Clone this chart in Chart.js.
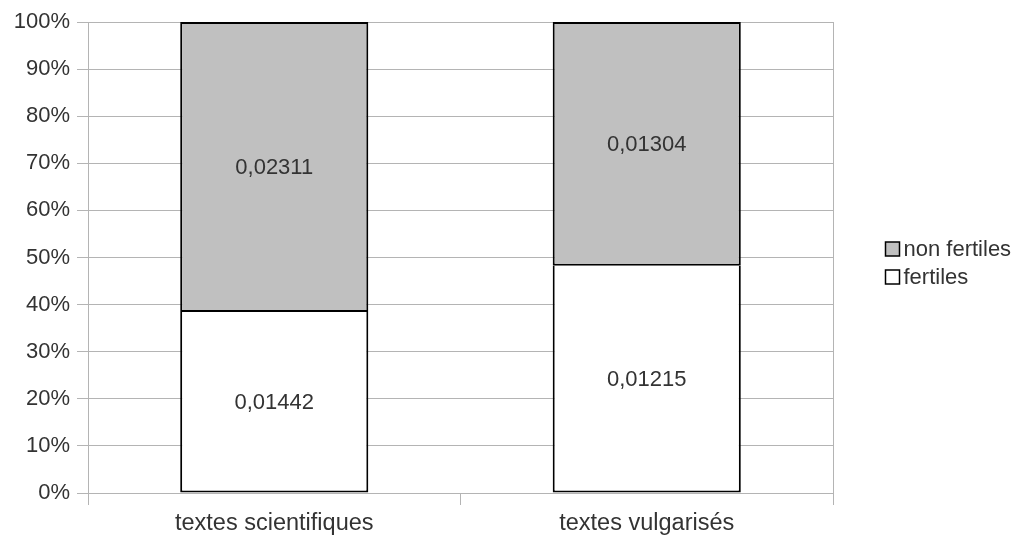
<!DOCTYPE html>
<html>
<head>
<meta charset="utf-8">
<script src="https://cdn.jsdelivr.net/npm/chart.js@4.4.0/dist/chart.umd.min.js"></script>
<style>
html,body{margin:0;padding:0;background:#fff;}
#wrap{width:1023px;height:542px;position:relative;}
</style>
</head>
<body>
<div id="wrap"><canvas id="c" width="1023" height="542"></canvas></div>
<script>
const categories = ['textes scientifiques', 'textes vulgarisés'];
const fertiles = [0.01442, 0.01215];
const nonFertiles = [0.02311, 0.01304];
const seriesNames = ['fertiles', 'non fertiles'];
const seriesColors = ['#ffffff', '#c0c0c0'];
const yTicks = [0, 10, 20, 30, 40, 50, 60, 70, 80, 90, 100];

const totals = fertiles.map((v, i) => v + nonFertiles[i]);
const pct = arr => arr.map((v, i) => v / totals[i] * 100);
const rawSeries = [fertiles, nonFertiles];

const FONT = '"Liberation Sans", Arial, sans-serif';
const TXT = '#333333';

const valueLabels = {
  id: 'valueLabels',
  afterDatasetsDraw(chart) {
    const ctx = chart.ctx;
    ctx.save();
    ctx.font = '22px ' + FONT;
    ctx.fillStyle = TXT;
    ctx.textAlign = 'center';
    ctx.textBaseline = 'middle';
    chart.data.datasets.forEach((ds, di) => {
      const meta = chart.getDatasetMeta(di);
      meta.data.forEach((bar, i) => {
        const p = bar.getProps(['x', 'y', 'base'], true);
        const yc = (p.y + p.base) / 2 + 1;
        ctx.fillText(rawSeries[di][i].toFixed(5).replace('.', ','), p.x, yc);
      });
    });
    ctx.restore();
  }
};

const customLegend = {
  id: 'customLegend',
  afterDraw(chart) {
    const ctx = chart.ctx;
    ctx.save();
    ctx.font = '22px ' + FONT;
    ctx.textBaseline = 'middle';
    ctx.textAlign = 'left';
    const items = chart.data.datasets.map((d, i) => i).reverse();
    const x0 = 885.5, yStart = 249, step = 28, box = 14;
    items.forEach((di, k) => {
      const ds = chart.data.datasets[di];
      const yc = yStart + k * step;
      ctx.fillStyle = ds.backgroundColor;
      ctx.fillRect(x0, yc - box / 2, box, box);
      ctx.lineWidth = 1.5;
      ctx.strokeStyle = '#000';
      ctx.strokeRect(x0, yc - box / 2, box, box);
      ctx.fillStyle = TXT;
      ctx.fillText(ds.label, x0 + box + 4, yc + 1);
    });
    ctx.restore();
  }
};

new Chart(document.getElementById('c'), {
  type: 'bar',
  data: {
    labels: categories,
    datasets: [
      { label: seriesNames[0], data: pct(fertiles), backgroundColor: seriesColors[0], borderColor: '#000', borderWidth: 2, borderSkipped: 'top' },
      { label: seriesNames[1], data: pct(nonFertiles), backgroundColor: seriesColors[1], borderColor: '#000', borderWidth: 2, borderSkipped: false }
    ]
  },
  options: {
    responsive: false,
    animation: false,
    layout: { padding: { left: 0, right: 190, top: 22, bottom: 0 } },
    plugins: { legend: { display: false }, tooltip: { enabled: false } },
    datasets: { bar: { barPercentage: 0.505, categoryPercentage: 1 } },
    scales: {
      x: {
        stacked: true,
        afterFit(s) { s.height = 49; },
        grid: { offset: true, drawOnChartArea: false, color: '#b4b4b4', tickLength: 12, lineWidth: 1 },
        border: { display: true, color: '#b4b4b4' },
        ticks: { font: { family: FONT, size: 23.5 }, color: TXT, padding: 4 }
      },
      y: {
        stacked: true,
        min: 0, max: 100,
        afterFit(s) { s.width = 88; },
        afterBuildTicks(s) { s.ticks = yTicks.map(v => ({ value: v })); },
        grid: { color: '#b4b4b4', tickLength: 11, lineWidth: 1 },
        border: { display: true, color: '#b4b4b4' },
        ticks: { font: { family: FONT, size: 22 }, color: TXT, padding: 7, callback: v => v + '%' }
      },
      y2: {
        position: 'right',
        min: 0, max: 100,
        afterFit(s) { s.width = 0; },
        grid: { drawOnChartArea: false, drawTicks: false },
        border: { display: true, color: '#b4b4b4' },
        ticks: { display: false }
      }
    }
  },
  plugins: [valueLabels, customLegend]
});
</script>
</body>
</html>
